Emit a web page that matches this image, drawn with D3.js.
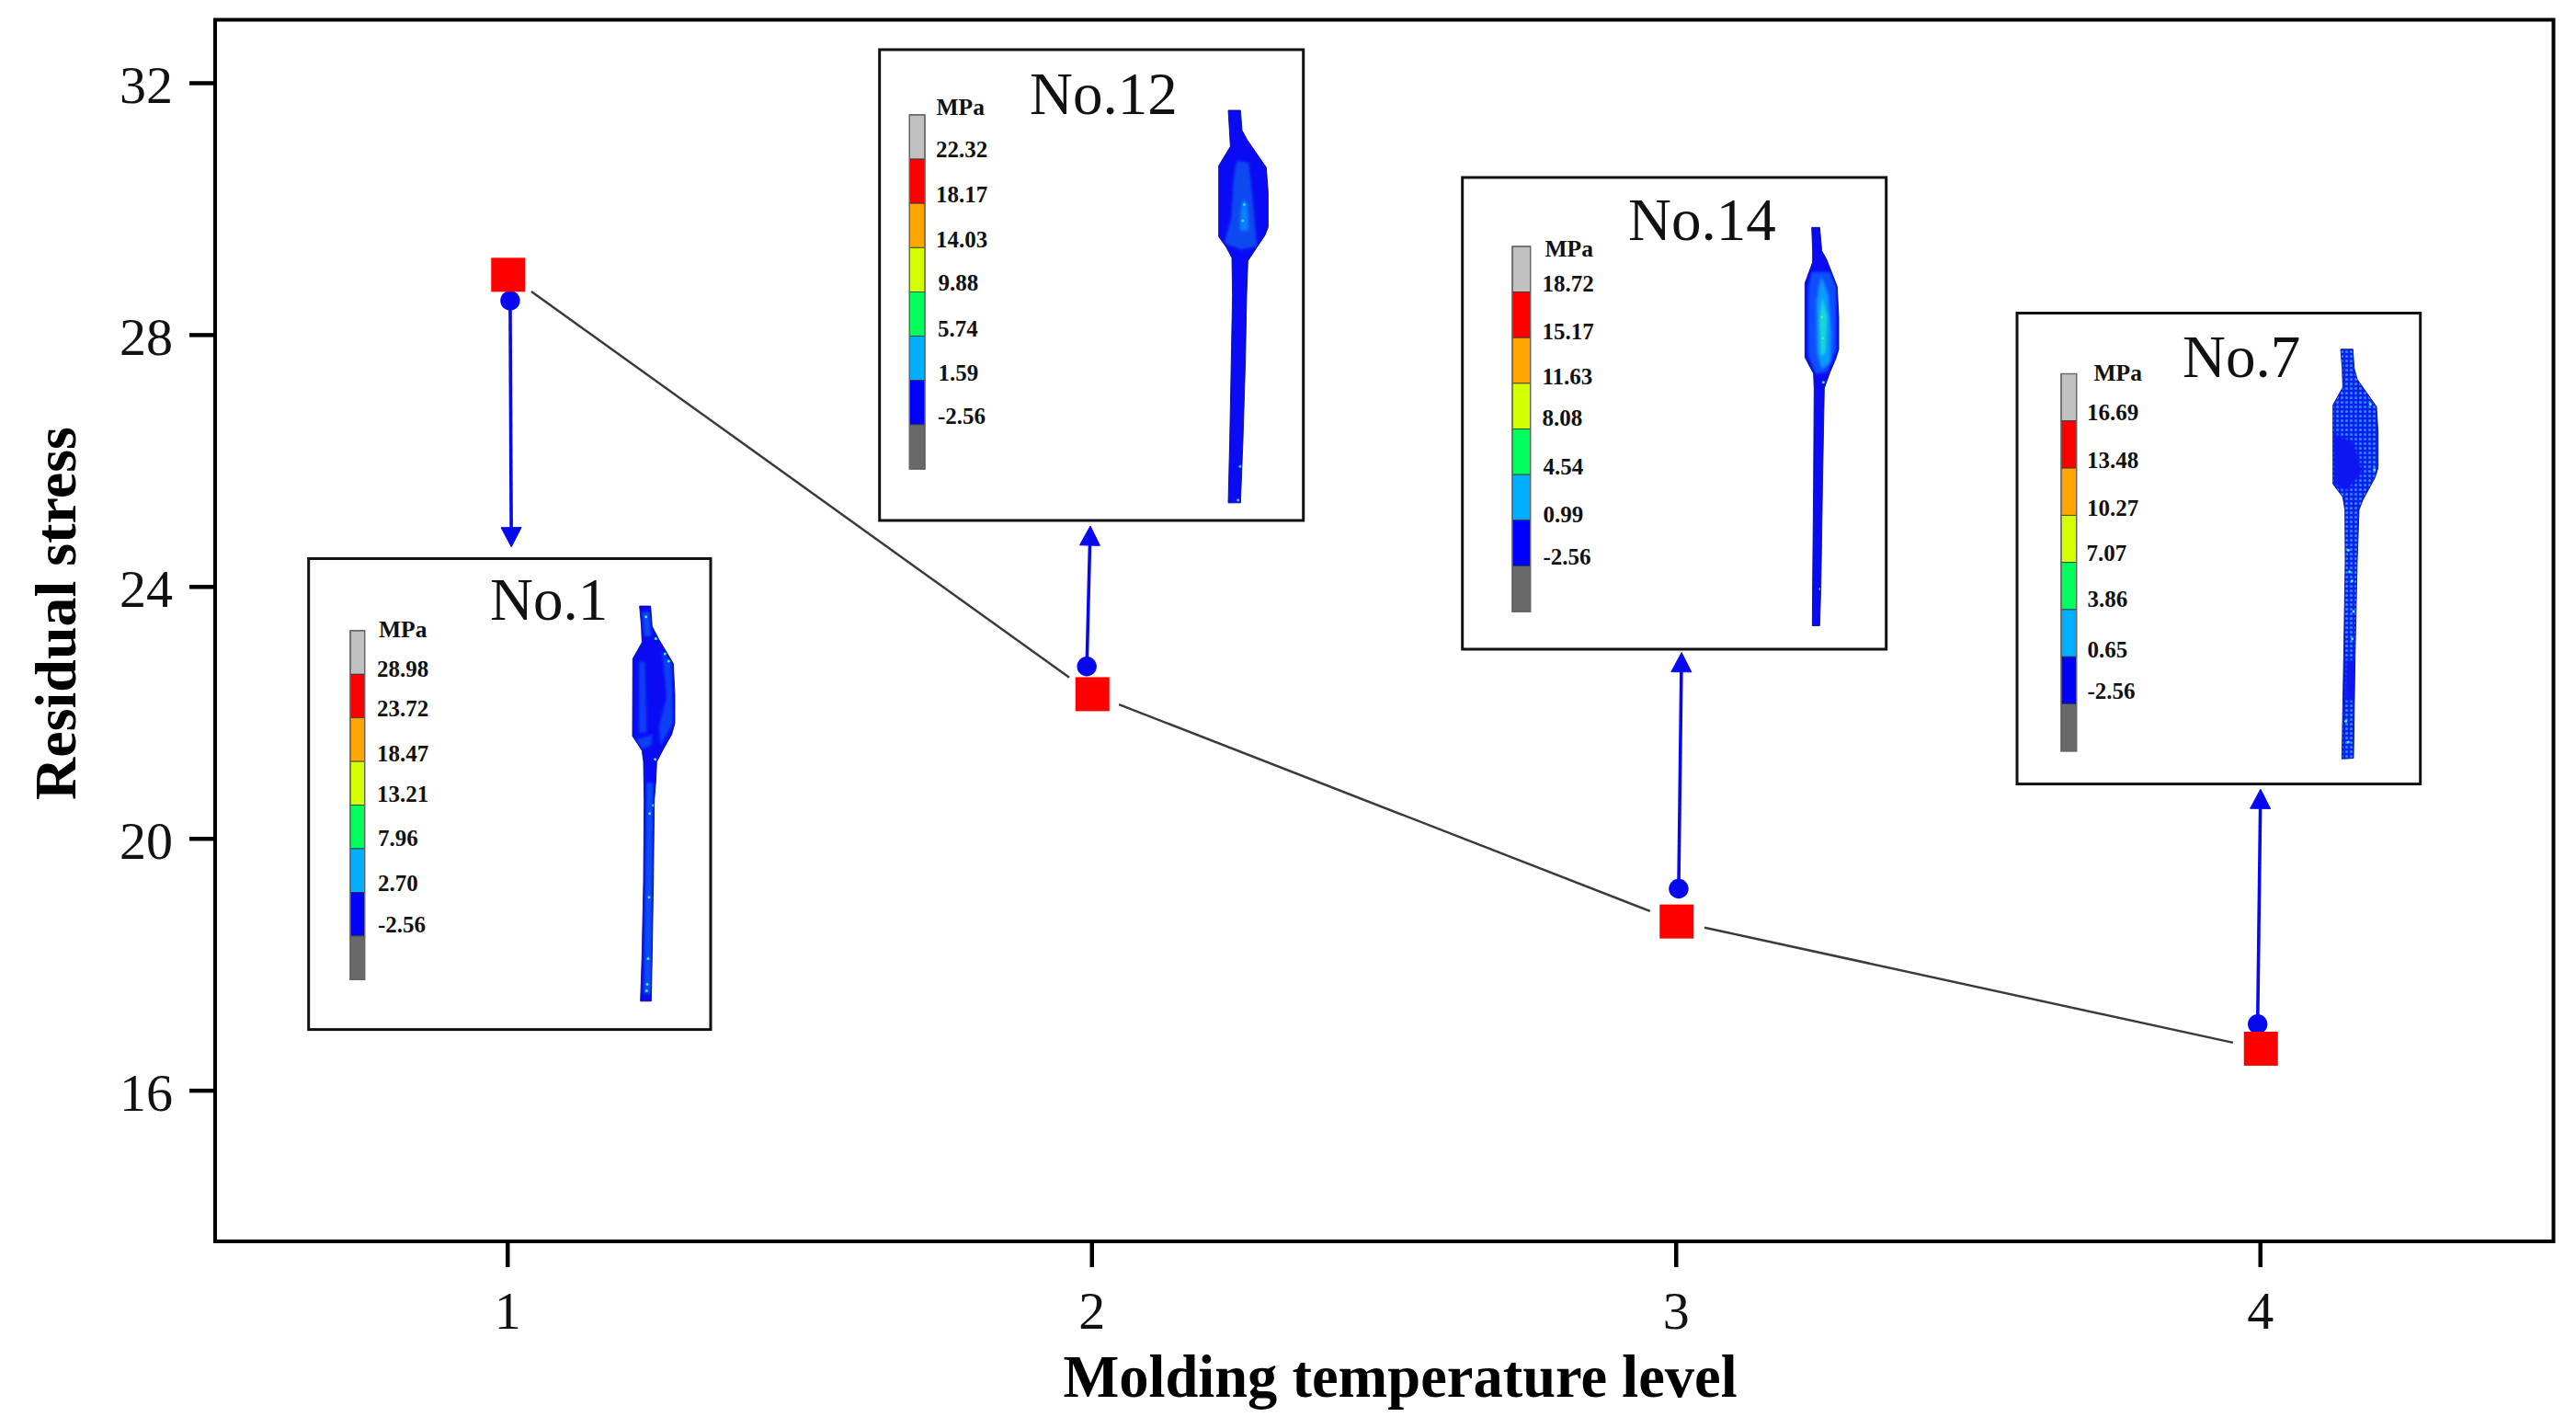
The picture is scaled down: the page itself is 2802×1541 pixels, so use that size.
<!DOCTYPE html>
<html><head><meta charset="utf-8">
<script src="https://cdn.jsdelivr.net/npm/d3@7/dist/d3.min.js"></script>
<style>html,body{margin:0;padding:0;background:#fff}svg{display:block}text{font-family:"Liberation Serif",serif}</style>
</head><body><svg id="c" width="2802" height="1541" xmlns="http://www.w3.org/2000/svg"></svg>
<script>
// ---------- data ----------
const levels = [1, 2, 3, 4];
const residualStress = [28.95, 22.29, 18.68, 16.66];
const yTicks = [16, 20, 24, 28, 32];
const xTitle = "Molding temperature level";
const yTitle = "Residual stress";
// call-out arrows, in data units
const arrowStartX = [1.005, 1.992, 3.005, 3.996];
const arrowStartY = [28.54, 22.73, 19.20, 17.05];
const arrowTipX = [1.007, 1.998, 3.010, 4.001];
const arrowTipY = [24.63, 24.96, 22.95, 20.78];
// insets
const insetNames = ["No.1", "No.12", "No.14", "No.7"];
const legendNo1 = ["28.98", "23.72", "18.47", "13.21", "7.96", "2.70", "-2.56"];
const legendNo12 = ["22.32", "18.17", "14.03", "9.88", "5.74", "1.59", "-2.56"];
const legendNo14 = ["18.72", "15.17", "11.63", "8.08", "4.54", "0.99", "-2.56"];
const legendNo7 = ["16.69", "13.48", "10.27", "7.07", "3.86", "0.65", "-2.56"];
const legendUnit = "MPa";
const bandColors = ["#c0c0c0", "#ff0000", "#ffa500", "#d4ff00", "#00ff5a", "#00b0ff", "#0000ff", "#696969"];

// ---------- layout ----------
const W = 2802, H = 1541;
const frame = {l: 234, r: 2776, t: 21.5, b: 1350};
const inkBlue = "#0808ee";
const insets = [
  {box: [335.7, 773, 607.5, 1119.6], crop: [320, 590], bar: [381, 396.7, 685.8, 1065.3],
   title: [533, 674], unit: [412, 692.8], legend: legendNo1,
   labelX: [410, 410, 410, 410, 411, 411, 411],
   labelY: [736.3, 778.7, 827.8, 871.7, 919.7, 968.8, 1014.4]},
  {box: [956.7, 1417.7, 54, 566], crop: [950, 40], bar: [989.3, 1006, 124.9, 510],
   title: [1120, 123.5], unit: [1018.5, 125.2], legend: legendNo12,
   labelX: [1018, 1018, 1018, 1020.5, 1020, 1020.5, 1020],
   labelY: [170.5, 220, 269, 316.4, 365.5, 413.9, 460.9]},
  {box: [1590.7, 2051.7, 193, 706], crop: [1580, 180], bar: [1645, 1664.7, 268, 665.1],
   title: [1771, 260.7], unit: [1680.5, 279.3], legend: legendNo14,
   labelX: [1677.5, 1677.5, 1677.5, 1677.5, 1678.5, 1678.5, 1678.5],
   labelY: [316.8, 368.7, 417.8, 463.4, 516, 567.6, 613.9]},
  {box: [2194, 2632.7, 340.5, 852.6], crop: [2190, 330], bar: [2242, 2258.7, 406.5, 816.8],
   title: [2374, 410], unit: [2277.5, 413.5], legend: legendNo7,
   labelX: [2270, 2270, 2270, 2269.5, 2270.5, 2270.5, 2270.5],
   labelY: [457, 508.9, 560.8, 609.6, 659.7, 714.8, 760.4]}
];
// specimen drawings, traced in crop-local units
const outlines = [
  [[1127,197],[1163,197],[1168,260],[1190,300],[1237,375],[1242,470],[1242,560],[1232,595],[1205,640],[1183,680],[1180,740],[1175,800],[1172,1050],[1168,1280],[1165,1422],[1130,1422],[1135,1280],[1140,1050],[1142,800],[1140,680],[1135,645],[1104,600],[1105,360],[1135,310],[1133,260]],
  [[1158,228],[1198,228],[1203,290],[1220,320],[1282,405],[1288,480],[1288,590],[1278,615],[1250,655],[1222,695],[1218,800],[1214,1000],[1206,1250],[1198,1445],[1158,1445],[1163,1250],[1168,1000],[1172,800],[1170,685],[1150,650],[1127,620],[1127,400],[1165,340],[1162,290]],
  [[1172,192],[1198,192],[1205,265],[1220,290],[1255,375],[1260,470],[1260,570],[1250,600],[1232,640],[1213,690],[1207,1000],[1202,1300],[1198,1427],[1174,1427],[1175,1300],[1178,1000],[1180,690],[1178,645],[1150,595],[1150,365],[1175,300],[1175,265]],
  [[1068,142],[1108,142],[1112,200],[1122,235],[1185,320],[1190,400],[1190,510],[1180,540],[1140,610],[1128,640],[1122,800],[1115,1100],[1110,1410],[1072,1412],[1078,1100],[1083,800],[1082,640],[1075,600],[1043,560],[1043,315],[1075,260],[1073,200]]
];
const patches = [
  [{c:"#0a40f5",p:[[1125,370],[1145,370],[1150,590],[1125,590]]},
   {c:"#0a40f5",p:[[1200,335],[1232,375],[1236,560],[1195,630],[1190,570],[1215,480]]},
   {c:"#0a40f5",p:[[1115,610],[1170,595],[1165,630],[1135,640]]},
   {c:"#0a48f5",p:[[1150,745],[1172,745],[1166,1400],[1140,1400]]},
   {c:"#0a48f5",p:[[1135,215],[1160,215],[1165,290],[1142,290]]}],
  [{c:"#0a48f0",p:[[1185,385],[1225,390],[1240,520],[1252,650],[1200,660],[1145,640],[1168,560],[1175,440]]},
   {c:"#0a80ff",p:[[1205,505],[1220,515],[1224,600],[1196,600],[1198,550]]}],
  [{c:"#0a50ff",p:[[1172,330],[1232,330],[1252,380],[1252,570],[1222,640],[1185,645],[1160,590],[1160,380]]},
   {c:"#0a9aff",p:[[1203,345],[1225,400],[1235,520],[1232,610],[1205,630],[1190,580],[1188,420]]},
   {c:"#18dcd0",p:[[1207,410],[1222,470],[1216,580],[1203,590],[1198,480]]}],
  []
];
const solidPatches = [[],[],[],[
  {c:"#0a14f0",p:[[1043,400],[1110,430],[1140,520],[1090,580],[1050,565]]},
  {c:"#0a14f0",p:[[1085,1105],[1115,1105],[1115,1230],[1080,1230]]}
]];
const specks = [
  [[1180,298],[1210,345],[1222,368],[1178,672],[1160,840],[1172,815],[1158,1100],[1155,1290],[1152,1370],[1150,1390],[1148,230]],
  [[1197,1332],[1190,1436],[1210,520],[1205,570]],
  [[1208,535],[1210,672],[1200,1313],[1205,470]],
  [[1093,765],[1097,832],[1105,860],[1110,955],[1106,1040],[1093,1360],[1085,1295],[1178,515],[1165,312]]
];
const speckColors = ["#30ff90", "#20e0d0", "#30ff90", "#40ffa0"];

// ---------- scales ----------
const x = d3.scaleLinear().domain([0.5, 4.5]).range([frame.l, frame.r]);
const y = d3.scaleLinear().domain([13.6, 33]).range([frame.b, frame.t]);
const svg = d3.select("#c");
svg.append("rect").attr("width", W).attr("height", H).attr("fill", "#fff");
const defs = svg.append("defs");
const dots = defs.append("pattern").attr("id", "dots").attr("width", 5).attr("height", 5).attr("patternUnits", "userSpaceOnUse");
dots.append("rect").attr("width", 5).attr("height", 5).attr("fill", "#0a20f0");
dots.append("circle").attr("cx", 2.5).attr("cy", 2.5).attr("r", 1.5).attr("fill", "#2a8cff");
defs.append("filter").attr("id", "soft").append("feGaussianBlur").attr("stdDeviation", 1.4);

// ---------- line with gaps around the markers ----------
const markerDx = 1, gap = 31;
const pts = levels.map((l, i) => [x(l) + markerDx, y(residualStress[i])]);
const lineGen = d3.line();
d3.pairs(pts).forEach(([a, b]) => {
  const len = Math.hypot(b[0] - a[0], b[1] - a[1]);
  const ux = (b[0] - a[0]) / len, uy = (b[1] - a[1]) / len;
  svg.append("path").attr("fill", "none").attr("stroke", "#3a3a3a").attr("stroke-width", 2.5)
    .attr("d", lineGen([[a[0] + ux * gap, a[1] + uy * gap], [b[0] - ux * gap, b[1] - uy * gap]]));
});

// ---------- axes ----------
const tickW = 4.5;
const gx = svg.append("g").attr("transform", `translate(0,${frame.b})`)
  .call(d3.axisBottom(x).tickValues(levels).tickFormat(d3.format("d")).tickSize(28).tickSizeOuter(0));
const gy = svg.append("g").attr("transform", `translate(${frame.l},0)`)
  .call(d3.axisLeft(y).tickValues(yTicks).tickFormat(d3.format("d")).tickSize(28).tickSizeOuter(0));
[gx, gy].forEach(g => {
  g.select(".domain").remove();
  g.attr("font-family", null).attr("font-size", null);
  g.selectAll("line").attr("stroke", "#000").attr("stroke-width", tickW);
  g.selectAll("text").attr("fill", "#111").style("font-size", "58px");
});
gx.selectAll("text").attr("y", 95).attr("dy", 0);
gy.selectAll("text").attr("x", -46).attr("dy", 21.5);
svg.append("rect").attr("x", frame.l).attr("y", frame.t).attr("width", frame.r - frame.l + 1.5).attr("height", frame.b - frame.t)
  .attr("fill", "none").attr("stroke", "#000").attr("stroke-width", 4);

svg.append("text").attr("x", 1523).attr("y", 1519).attr("text-anchor", "middle")
  .style("font-size", "64.5px").style("font-weight", "bold").attr("fill", "#000").text(xTitle);
svg.append("text").attr("transform", "translate(82,667) rotate(-90)").attr("text-anchor", "middle")
  .style("font-size", "64px").style("font-weight", "bold").attr("fill", "#000").text(yTitle);

// ---------- call-out arrows ----------
const headLen = 21, headHalf = 11, dotR = 10.7;
levels.forEach((_, i) => {
  const s = [x(arrowStartX[i]), y(arrowStartY[i])], t = [x(arrowTipX[i]), y(arrowTipY[i])];
  const len = Math.hypot(t[0] - s[0], t[1] - s[1]);
  const ux = (t[0] - s[0]) / len, uy = (t[1] - s[1]) / len;
  const base = [t[0] - ux * headLen, t[1] - uy * headLen];
  svg.append("path").attr("stroke", inkBlue).attr("stroke-width", 3.6).attr("fill", "none").attr("d", lineGen([s, base]));
  svg.append("path").attr("fill", inkBlue).attr("stroke", inkBlue).attr("stroke-width", 1).attr("stroke-linejoin", "round")
    .attr("d", lineGen([t, [base[0] - uy * headHalf, base[1] + ux * headHalf], [base[0] + uy * headHalf, base[1] - ux * headHalf]]) + "Z");
  svg.append("circle").attr("cx", s[0]).attr("cy", s[1]).attr("r", dotR).attr("fill", inkBlue);
});

// ---------- square markers ----------
const sq = 37;
svg.selectAll("rect.pt").data(pts).join("rect").attr("class", "pt")
  .attr("x", d => d[0] - sq / 2).attr("y", d => d[1] - sq / 2).attr("width", sq).attr("height", sq).attr("fill", "#ff0000");

// ---------- insets ----------
insets.forEach((ins, i) => {
  const g = svg.append("g");
  const [bx0, bx1, by0, by1] = ins.box;
  g.append("rect").attr("x", bx0).attr("y", by0).attr("width", bx1 - bx0).attr("height", by1 - by0)
    .attr("fill", "#fff").attr("stroke", "#111").attr("stroke-width", 3);
  g.append("text").attr("x", ins.title[0]).attr("y", ins.title[1]).style("font-size", "65px").attr("fill", "#111").text(insetNames[i]);

  // colour bar
  const [cx0, cx1, cy0, cy1] = ins.bar;
  const band = d3.scaleBand().domain(d3.range(bandColors.length)).range([cy0, cy1]);
  g.selectAll("rect.band").data(bandColors).join("rect").attr("class", "band")
    .attr("x", cx0).attr("y", (d, k) => band(k)).attr("width", cx1 - cx0).attr("height", band.bandwidth())
    .attr("fill", d => d).attr("stroke", "#333").attr("stroke-width", 0.8);
  g.append("rect").attr("x", cx0).attr("y", cy0).attr("width", cx1 - cx0).attr("height", cy1 - cy0)
    .attr("fill", "none").attr("stroke", "#666").attr("stroke-width", 1.4);
  g.append("text").attr("x", ins.unit[0]).attr("y", ins.unit[1]).style("font-size", "25.5px").style("font-weight", "bold").attr("fill", "#111").text(legendUnit);
  g.selectAll("text.val").data(ins.legend).join("text").attr("class", "val")
    .attr("x", (d, k) => ins.labelX[k]).attr("y", (d, k) => ins.labelY[k])
    .style("font-size", "25px").style("font-weight", "bold").attr("fill", "#111").text(d => d);

  // specimen
  const sx = d3.scaleLinear().domain([0, 3]).range([ins.crop[0], ins.crop[0] + 1]);
  const sy = d3.scaleLinear().domain([0, 2.851]).range([ins.crop[1], ins.crop[1] + 1]);
  const poly = d3.line().x(d => sx(d[0])).y(d => sy(d[1]));
  const d = poly(outlines[i]) + "Z";
  const clipId = "spec" + i;
  defs.append("clipPath").attr("id", clipId).append("path").attr("d", d);
  g.append("path").attr("d", d).attr("fill", i === 3 ? "url(#dots)" : "#0a0af5");
  const inner = g.append("g").attr("clip-path", `url(#${clipId})`);
  const soft = inner.append("g").attr("filter", "url(#soft)");
  patches[i].concat(solidPatches[i]).forEach(pa => soft.append("path").attr("d", poly(pa.p) + "Z").attr("fill", pa.c));
  inner.selectAll("circle").data(specks[i]).join("circle").attr("cx", p => sx(p[0])).attr("cy", p => sy(p[1])).attr("r", 1.5).attr("fill", speckColors[i]);
  g.append("path").attr("d", d).attr("fill", "none").attr("stroke", "#00108a").attr("stroke-width", 0.9).attr("stroke-linejoin", "round");
});
</script></body></html>
